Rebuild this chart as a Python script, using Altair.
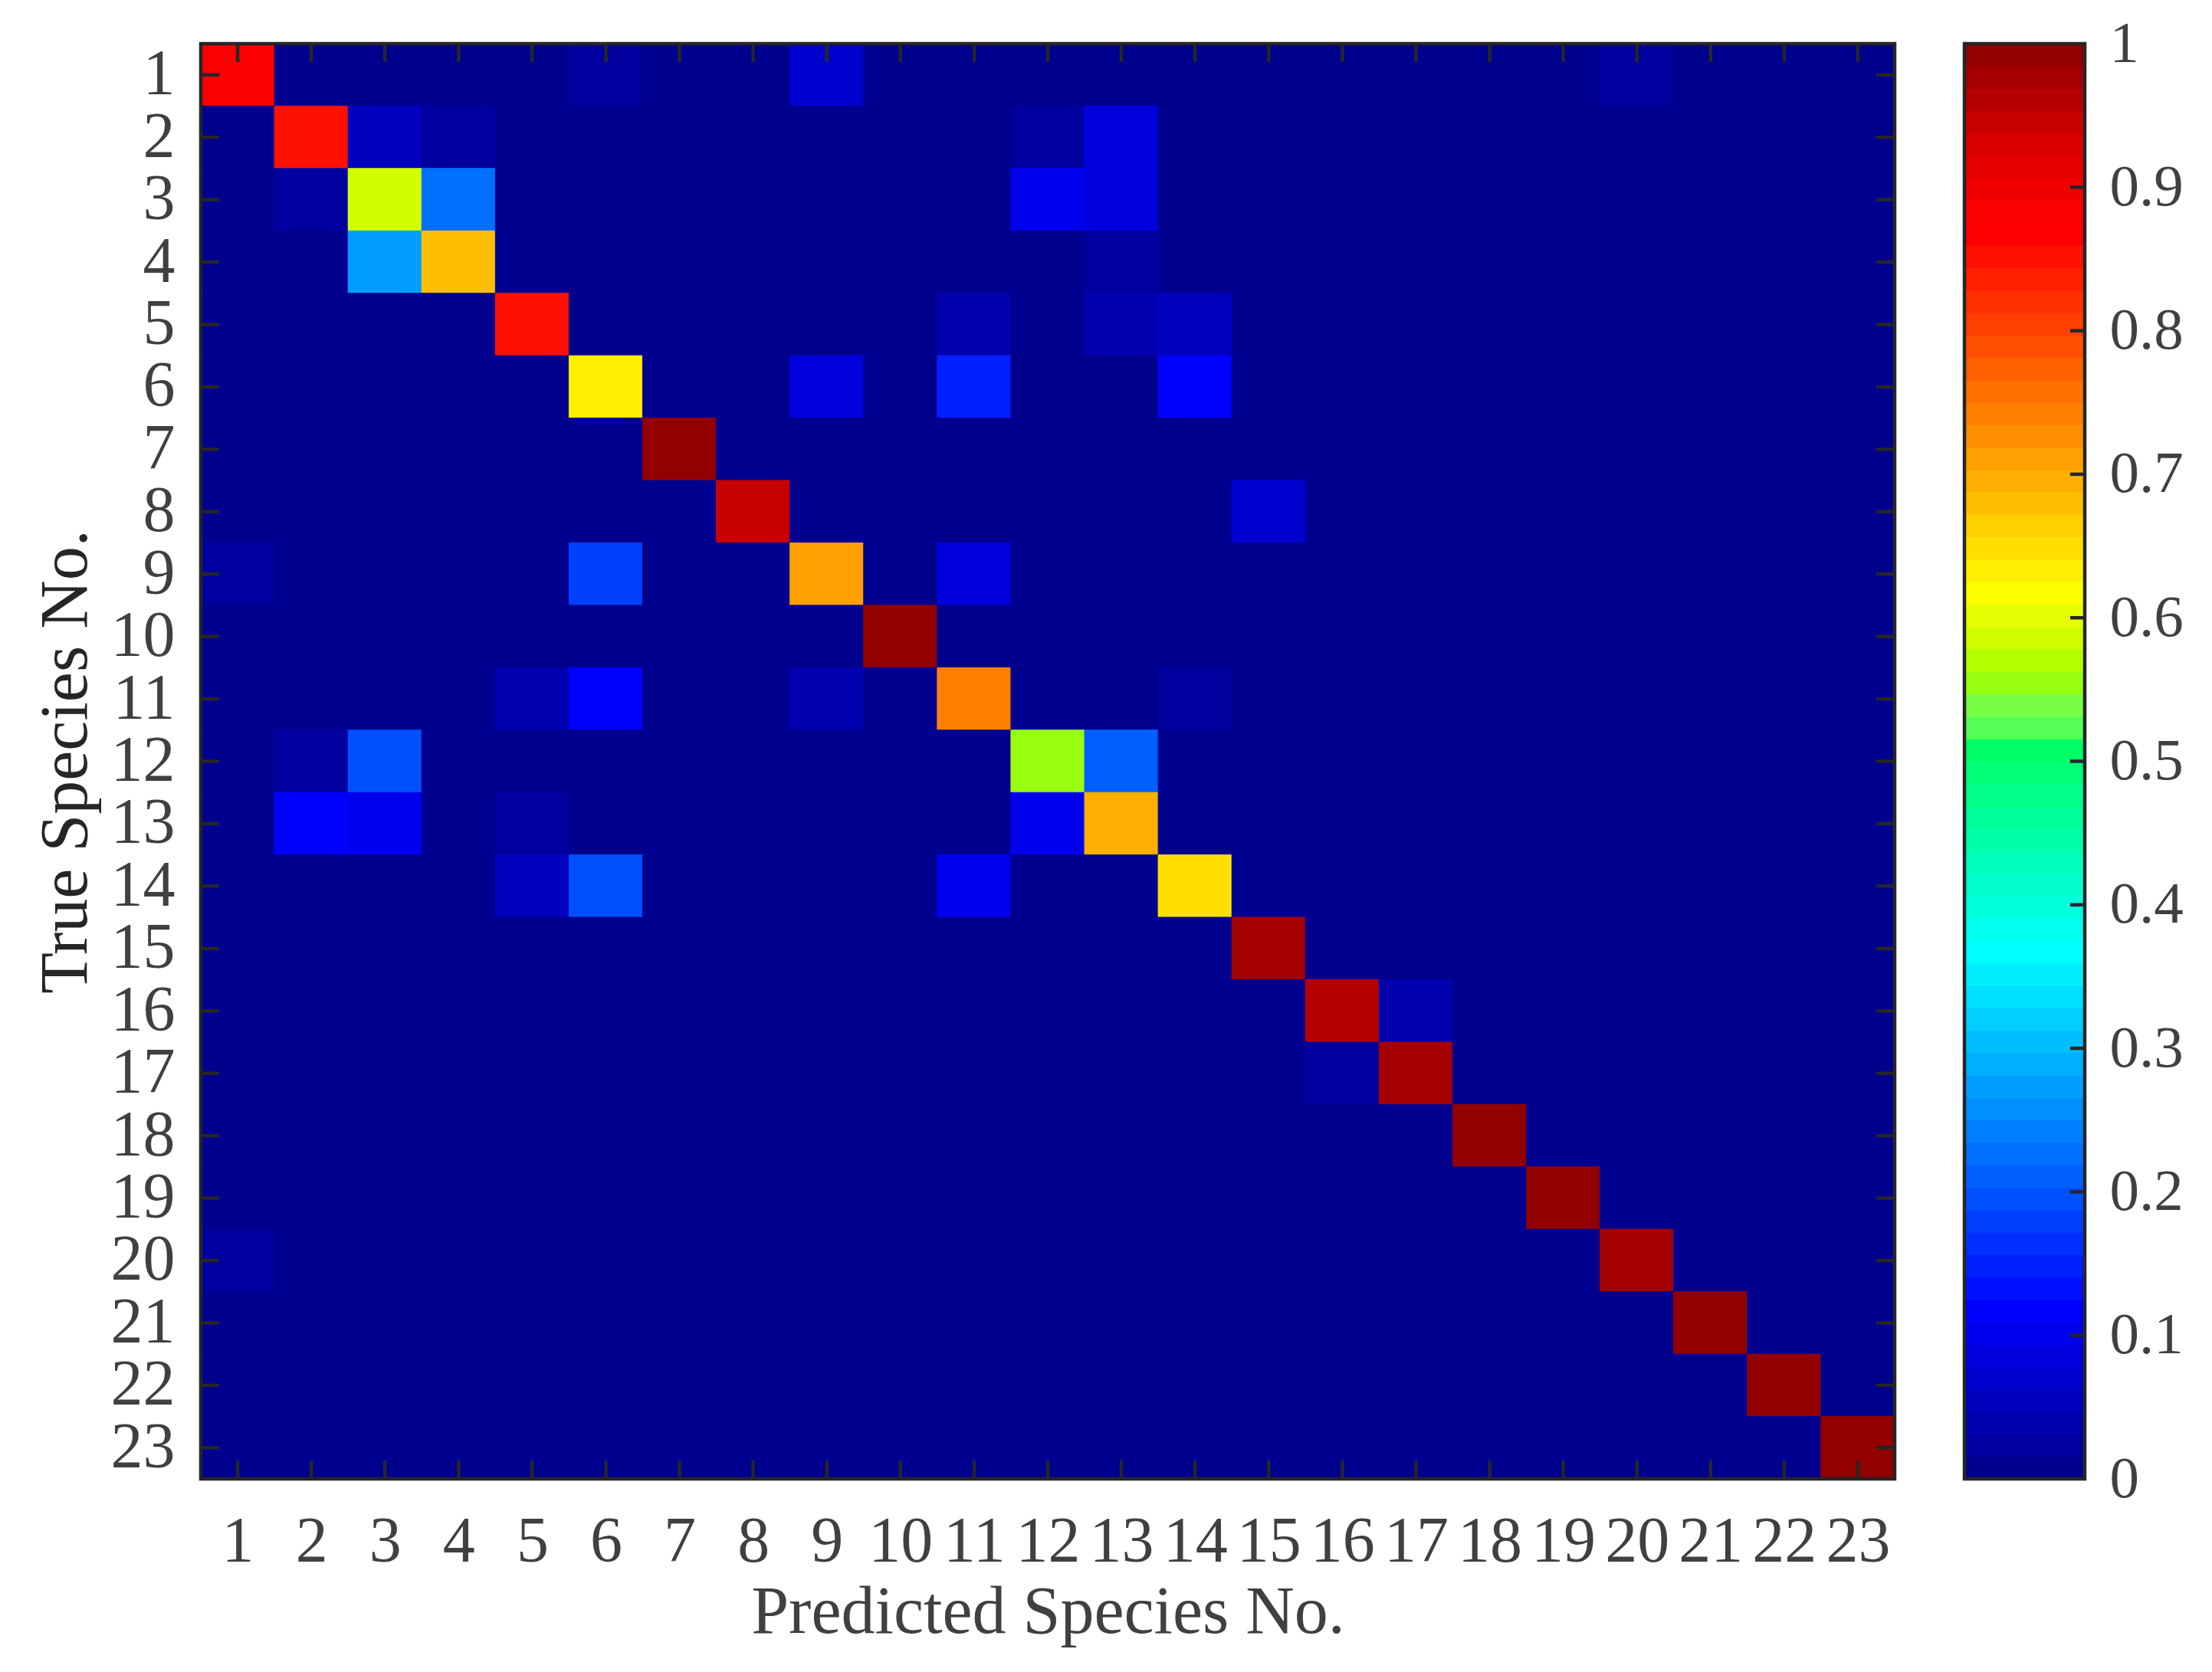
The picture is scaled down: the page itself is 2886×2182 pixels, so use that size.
import altair as alt
import pandas as pd

# ---------------- data ----------------
species = list(range(1, 24))

# non-zero cells of the normalised confusion matrix: true class, predicted class, rate
true_species = [1, 1, 1, 1,
                2, 2, 2, 2, 2,
                3, 3, 3, 3, 3,
                4, 4, 4,
                5, 5, 5, 5,
                6, 6, 6, 6,
                7,
                8, 8,
                9, 9, 9, 9,
                10,
                11, 11, 11, 11, 11,
                12, 12, 12, 12,
                13, 13, 13, 13, 13,
                14, 14, 14, 14,
                15,
                16, 16,
                17, 17,
                18,
                19,
                20, 20,
                21,
                22,
                23]
pred_species = [1, 6, 9, 20,
                2, 3, 4, 12, 13,
                2, 3, 4, 12, 13,
                3, 4, 13,
                5, 11, 13, 14,
                6, 9, 11, 14,
                7,
                8, 15,
                1, 6, 9, 11,
                10,
                5, 6, 9, 11, 14,
                2, 3, 12, 13,
                2, 3, 5, 12, 13,
                5, 6, 11, 14,
                15,
                16, 17,
                16, 17,
                18,
                19,
                1, 20,
                21,
                22,
                23]
rates = [0.88, 0.02, 0.065, 0.02,
         0.845, 0.05, 0.02, 0.02, 0.08,
         0.02, 0.585, 0.225, 0.095, 0.08,
         0.28, 0.685, 0.03,
         0.855, 0.045, 0.04, 0.055,
         0.64, 0.09, 0.15, 0.12,
         1.0,
         0.94, 0.065,
         0.025, 0.18, 0.71, 0.08,
         1.0,
         0.046, 0.124, 0.046, 0.74, 0.025,
         0.025, 0.195, 0.56, 0.215,
         0.11, 0.095, 0.02, 0.095, 0.69,
         0.05, 0.195, 0.1, 0.65,
         0.975,
         0.96, 0.04,
         0.025, 0.975,
         1.0,
         1.0,
         0.025, 0.975,
         1.0,
         1.0,
         1.0]

cbar_values = [0, 0.1, 0.2, 0.3, 0.4, 0.5, 0.6, 0.7, 0.8, 0.9, 1]
cbar_ticks = [0.1, 0.2, 0.3, 0.4, 0.5, 0.6, 0.7, 0.8, 0.9]

# ---------------- colour map (64-level jet, as rendered in the figure) ----------------
def jet_palette():
    n = 16
    u = [i / n for i in range(1, n + 1)] + [1.0] * (n - 1) + [i / n for i in range(n, 0, -1)]

    def pick(idx):
        return u[idx - 1] if 1 <= idx <= len(u) else 0.0

    cols = []
    for k in range(1, 65):
        cols.append([round(255 * pick(k - 24)), round(255 * pick(k - 8)), round(255 * pick(k + 8))])
    # green/cyan part as it appears in the figure
    for k in range(25, 34):
        cols[k - 1] = [0, 255, 255 - 17 * (k - 24)]
    upper_green = {34: (85, 255, 85), 35: (119, 255, 68), 36: (153, 255, 17),
                   37: (179, 255, 0), 38: (210, 255, 0), 39: (230, 255, 0)}
    for k, c in upper_green.items():
        cols[k - 1] = list(c)
    dark_red = {57: (252, 0, 0), 58: (242, 0, 0), 59: (230, 0, 0), 60: (218, 0, 0),
                61: (202, 0, 0), 62: (183, 0, 0), 63: (164, 0, 0), 64: (146, 0, 0)}
    for k, c in dark_red.items():
        cols[k - 1] = list(c)
    return ["#%02x%02x%02x" % tuple(c) for c in cols]


palette = jet_palette()

# ---------------- layout constants ----------------
W, H = 2210, 1873
FONT = "Liberation Serif"
FRAME = "#262626"
LABEL = "#404040"
TICK_LEN = 24
LW = 4.5
CB_X0, CB_X1 = 2301, 2458

cells = {(t, p): 0.0 for t in species for p in species}
for t, p, r in zip(true_species, pred_species, rates):
    cells[(t, p)] = r
df = pd.DataFrame([{"true": t, "pred": p, "value": v} for (t, p), v in cells.items()])
tick_df = pd.DataFrame({"s": species})
one = pd.DataFrame({"a": [0]})

color_scale = alt.Scale(type="quantize", domain=[0, 1], range=palette)
x_scale = alt.Scale(domain=[0.5, 23.5], nice=False, zero=False)
y_scale = alt.Scale(domain=[0.5, 23.5], nice=False, zero=False, reverse=True)
cb_scale = alt.Scale(domain=[0, 1], nice=False)

x_axis = alt.Axis(values=species, title="Predicted Species No.",
                  labelFont=FONT, labelFontSize=84, labelColor=LABEL,
                  labelPadding=107, labelBaseline="alphabetic", labelFlush=False,
                  labelOverlap=False, domain=False, ticks=False, tickSize=0, grid=False,
                  titleFont=FONT, titleFontSize=88, titleFontWeight="normal", titleColor=LABEL,
                  titleX=W / 2, titleY=200, titleBaseline="alphabetic", titleAlign="center")
y_axis = alt.Axis(values=species, title="True Species No.",
                  labelFont=FONT, labelFontSize=84, labelColor=LABEL,
                  labelPadding=34, labelAlign="right", labelBaseline="middle", labelFlush=False,
                  labelOverlap=False, domain=False, ticks=False, tickSize=0, grid=False,
                  titleFont=FONT, titleFontSize=88, titleFontWeight="normal", titleColor="#262626",
                  titleAngle=270, titleX=-150, titleY=H / 2, titleBaseline="alphabetic",
                  titleAlign="center")
cb_axis = alt.Axis(orient="right", offset=CB_X1 - W, values=cbar_values, format="~g", title="",
                   labelFont=FONT, labelFontSize=77, labelColor=LABEL, labelPadding=32,
                   labelAlign="left", labelBaseline="middle", labelFlush=False, labelOverlap=False,
                   domain=False, ticks=False, tickSize=0, grid=False)

heat = alt.Chart(df).transform_calculate(
    x0="datum.pred - 0.5", x1="datum.pred + 0.5",
    y0="datum.true - 0.5", y1="datum.true + 0.5"
).mark_rect(strokeWidth=1).encode(
    x=alt.X("x0:Q", scale=x_scale, axis=x_axis), x2="x1:Q",
    y=alt.Y("y0:Q", scale=y_scale, axis=y_axis), y2="y1:Q",
    color=alt.Color("value:Q", scale=color_scale, legend=None),
    stroke=alt.Stroke("value:Q", scale=color_scale, legend=None),
)

rule = dict(color=FRAME, strokeWidth=LW, strokeCap="butt")
ticks_bottom = alt.Chart(tick_df).mark_rule(**rule).encode(
    x=alt.X("s:Q", scale=x_scale, axis=x_axis), y=alt.value(H), y2=alt.value(H - TICK_LEN))
ticks_top = alt.Chart(tick_df).mark_rule(**rule).encode(
    x=alt.X("s:Q", scale=x_scale, axis=x_axis), y=alt.value(0), y2=alt.value(TICK_LEN))
ticks_left = alt.Chart(tick_df).mark_rule(**rule).encode(
    y=alt.Y("s:Q", scale=y_scale, axis=y_axis), x=alt.value(0), x2=alt.value(TICK_LEN))
ticks_right = alt.Chart(tick_df).mark_rule(**rule).encode(
    y=alt.Y("s:Q", scale=y_scale, axis=y_axis), x=alt.value(W), x2=alt.value(W - TICK_LEN))
frame = alt.Chart(one).mark_rect(filled=False, stroke=FRAME, strokeWidth=LW).encode(
    x=alt.value(0), x2=alt.value(W), y=alt.value(0), y2=alt.value(H))

main = alt.layer(heat, ticks_bottom, ticks_top, ticks_left, ticks_right, frame)

cbar = alt.Chart(alt.sequence(0, 64, as_="lvl")).transform_calculate(
    lo="datum.lvl / 64", hi="(datum.lvl + 1) / 64", value="(datum.lvl + 0.5) / 64"
).mark_rect(strokeWidth=1).encode(
    x=alt.value(CB_X0), x2=alt.value(CB_X1),
    y=alt.Y("lo:Q", scale=cb_scale, axis=cb_axis), y2="hi:Q",
    color=alt.Color("value:Q", scale=color_scale, legend=None),
    stroke=alt.Stroke("value:Q", scale=color_scale, legend=None),
)
cbar_tick_marks = alt.Chart(pd.DataFrame({"t": cbar_ticks})).mark_rule(**rule).encode(
    y=alt.Y("t:Q", scale=cb_scale, axis=cb_axis), x=alt.value(CB_X1 - 19), x2=alt.value(CB_X1))
cbar_frame = alt.Chart(one).mark_rect(filled=False, stroke=FRAME, strokeWidth=LW).encode(
    x=alt.value(CB_X0), x2=alt.value(CB_X1), y=alt.value(0), y2=alt.value(H))

colorbar = alt.layer(cbar, cbar_tick_marks, cbar_frame)

chart = alt.layer(main, colorbar).resolve_scale(y="independent").properties(
    width=W, height=H,
    autosize=alt.AutoSizeParams(type="none"),
    padding={"left": 254, "top": 49, "right": 406, "bottom": 244},
).configure_view(strokeWidth=0)

chart.save("out.html", embed_options={"renderer": "svg", "actions": False})
